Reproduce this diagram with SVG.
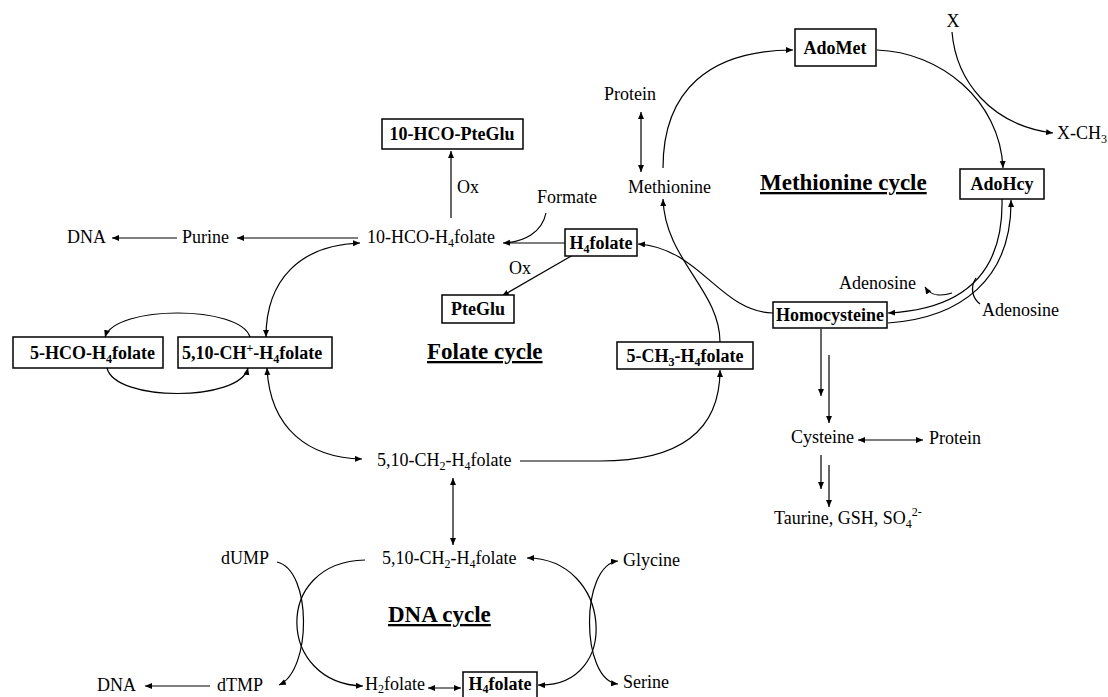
<svg xmlns="http://www.w3.org/2000/svg" width="1108" height="697" viewBox="0 0 1108 697">
<style>
text{font-family:"Liberation Serif","Times New Roman",serif;font-size:18px;fill:#000}
.b{font-weight:bold}
.h{font-weight:bold;font-size:23px;text-decoration:underline}
.s{font-size:12px}
.box{fill:#fff;stroke:#000;stroke-width:1.5}
.c path,.c line{fill:none;stroke:#000;stroke-width:1.2}
.a{marker-end:url(#ah)}
.d{marker-start:url(#ah);marker-end:url(#ah)}
</style>
<defs>
<marker id="ah" markerUnits="userSpaceOnUse" markerWidth="8" markerHeight="7" refX="7" refY="3" orient="auto-start-reverse"><path d="M0,0 L7,3 L0,6 z" fill="#000"/></marker>
</defs>
<rect width="1108" height="697" fill="#fff"/>

<g class="c" id="connectors">
<path class="a" d="M952,32 C956,80 990,125 1053,133"/>
<path class="a" d="M877,50 C940,52 1000,100 1003,168"/>
<path class="a" d="M663,168 C663,90 710,50 793,50"/>
<line class="d" x1="641" y1="112" x2="641" y2="172"/>
<path class="a" d="M720,342 C720,290 665,260 663,199"/>
<path class="a" d="M773,313 C720,312 700,248 638,244"/>
<path class="a" d="M1002,199 C1004,285 950,310 888,313"/>
<path class="a" d="M888,323 C960,318 1012,280 1011,200"/>
<path class="a" d="M952,293 C940,297 930,295 925,287"/>
<path d="M976,278 C970,287 972,298 980,304"/>
<line class="a" x1="821" y1="329" x2="821" y2="396"/>
<line class="a" x1="829" y1="355" x2="829" y2="423"/>
<line class="d" x1="858" y1="440" x2="923" y2="440"/>
<line class="a" x1="821" y1="455" x2="821" y2="489"/>
<line class="a" x1="829" y1="465" x2="829" y2="507"/>
<line class="a" x1="451" y1="218" x2="451" y2="151"/>
<line class="a" x1="358" y1="238" x2="237" y2="238"/>
<line class="a" x1="177" y1="238" x2="112" y2="238"/>
<line x1="565" y1="243" x2="510" y2="243"/>
<path class="a" d="M546,213 C542,232 525,242 503,243"/>
<line class="a" x1="573" y1="255" x2="502" y2="296"/>
<path class="d" d="M266,337 C266,280 300,245 360,243"/>
<path class="d" d="M267,368 C270,430 310,458 362,459"/>
<path class="a" d="M250,337 C240,305 115,305 105,337"/>
<path class="a" d="M107,368 C115,402 240,402 248,368"/>
<path class="a" d="M520,461 L600,461 C680,461 720,430 720,370"/>
<line class="d" x1="453" y1="478" x2="453" y2="545"/>
<path class="a" d="M277,562 C312,570 312,670 279,685"/>
<path class="a" d="M365,560 C272,562 277,684 363,686"/>
<line class="d" x1="428" y1="688" x2="461" y2="688"/>
<path class="d" d="M527,558 C612,558 622,688 538,685"/>
<path class="d" d="M618,561 C580,565 580,680 618,684"/>
<line class="a" x1="210" y1="686" x2="145" y2="686"/>
</g>

<g id="n-x"><text x="953" y="27" text-anchor="middle">X</text></g>
<g id="n-xch3"><text x="1057" y="139">X-CH<tspan class="s" dy="4">3</tspan></text></g>
<g id="n-adomet"><rect class="box" x="795" y="29" width="81" height="37"/><text class="b" x="835" y="54" text-anchor="middle">AdoMet</text></g>
<g id="n-adohcy"><rect class="box" x="960" y="169" width="84" height="30"/><text class="b" x="1002" y="190" text-anchor="middle">AdoHcy</text></g>
<g id="n-protein1"><text x="604" y="100">Protein</text></g>
<g id="n-methionine"><text x="628" y="193">Methionine</text></g>
<g id="t-metcycle"><text class="h" x="760" y="190">Methionine cycle</text></g>
<g id="n-homocysteine"><rect class="box" x="773" y="302" width="114" height="26"/><text class="b" x="830" y="321" text-anchor="middle">Homocysteine</text></g>
<g id="n-adenosine1"><text x="839" y="289">Adenosine</text></g>
<g id="n-adenosine2"><text x="982" y="316">Adenosine</text></g>
<g id="n-cysteine"><text x="791" y="443">Cysteine</text></g>
<g id="n-protein2"><text x="929" y="444">Protein</text></g>
<g id="n-taurine"><text x="774" y="524">Taurine, GSH, SO<tspan class="s" dy="4">4</tspan><tspan class="s" dy="-12">2-</tspan></text></g>

<g id="n-10hcopteglu"><rect class="box" x="382" y="119" width="141" height="30"/><text class="b" x="452" y="140" text-anchor="middle">10-HCO-PteGlu</text></g>
<g id="l-ox1"><text x="457" y="193">Ox</text></g>
<g id="n-formate"><text x="537" y="203">Formate</text></g>
<g id="n-10hco"><text x="367" y="243">10-HCO-H<tspan class="s" dy="4">4</tspan><tspan dy="-4">folate</tspan></text></g>
<g id="n-purine"><text x="182" y="243">Purine</text></g>
<g id="n-dna1"><text x="67" y="243">DNA</text></g>
<g id="n-h4folate1"><rect class="box" x="565" y="229" width="72" height="27"/><text class="b" x="601" y="249" text-anchor="middle">H<tspan class="s" dy="4">4</tspan><tspan dy="-4">folate</tspan></text></g>
<g id="l-ox2"><text x="509" y="274">Ox</text></g>
<g id="n-pteglu"><rect class="box" x="442" y="295" width="72" height="28"/><text class="b" x="478" y="315" text-anchor="middle">PteGlu</text></g>
<g id="t-folcycle"><text class="h" x="427" y="359">Folate cycle</text></g>
<g id="n-5hco"><rect class="box" x="13" y="337" width="150" height="31"/><text class="b" x="30" y="359">5-HCO-H<tspan class="s" dy="4">4</tspan><tspan dy="-4">folate</tspan></text></g>
<g id="n-510ch"><rect class="box" x="178" y="337" width="154" height="31"/><text class="b" x="182" y="359">5,10-CH<tspan class="s" dy="-7">+</tspan><tspan dy="7">-H</tspan><tspan class="s" dy="4">4</tspan><tspan dy="-4">folate</tspan></text></g>
<g id="n-5ch3"><rect class="box" x="617" y="342" width="136" height="27"/><text class="b" x="685" y="362" text-anchor="middle">5-CH<tspan class="s" dy="4">3</tspan><tspan dy="-4">-H</tspan><tspan class="s" dy="4">4</tspan><tspan dy="-4">folate</tspan></text></g>
<g id="n-510ch2a"><text x="377" y="466">5,10-CH<tspan class="s" dy="4">2</tspan><tspan dy="-4">-H</tspan><tspan class="s" dy="4">4</tspan><tspan dy="-4">folate</tspan></text></g>

<g id="n-510ch2b"><text x="382" y="564">5,10-CH<tspan class="s" dy="4">2</tspan><tspan dy="-4">-H</tspan><tspan class="s" dy="4">4</tspan><tspan dy="-4">folate</tspan></text></g>
<g id="n-dump"><text x="221" y="564">dUMP</text></g>
<g id="n-glycine"><text x="623" y="566">Glycine</text></g>
<g id="t-dnacycle"><text class="h" x="388" y="622">DNA cycle</text></g>
<g id="n-dna2"><text x="97" y="691">DNA</text></g>
<g id="n-dtmp"><text x="217" y="691">dTMP</text></g>
<g id="n-h2folate"><text x="365" y="690">H<tspan class="s" dy="3">2</tspan><tspan dy="-3">folate</tspan></text></g>
<g id="n-h4folate2"><rect class="box" x="463" y="672" width="74" height="30"/><text class="b" x="500" y="690" text-anchor="middle">H<tspan class="s" dy="3">4</tspan><tspan dy="-3">folate</tspan></text></g>
<g id="n-serine"><text x="623" y="688">Serine</text></g>
</svg>
